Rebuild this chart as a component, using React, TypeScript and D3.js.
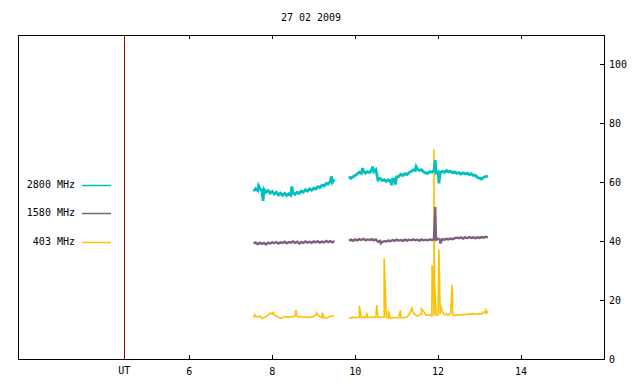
import React from "react";
import * as d3 from "d3";

const TITLE = "27 02 2009";
const X_DOMAIN = [1.87, 16];
const Y_DOMAIN = [0, 110];
const X_TICKS = [6, 8, 10, 12, 14];
const UT_MARK = 4.43;
const Y_TICKS = [0, 20, 40, 60, 80, 100];

const SEG1_START = 7.55;
const SEG2_START = 9.85;
const STEP = 0.05;

// 2800 MHz
const f2800Seg1 = [57.0, 57.8, 57.2, 57.9, 57.1, 57.6, 56.6, 57.2, 56.3, 56.9, 56.0, 56.6, 55.7, 56.3, 55.6, 56.2, 55.5, 56.1, 55.6, 56.4, 55.9, 56.6, 56.2, 57.0, 56.6, 57.5, 57.0, 57.8, 57.3, 58.0, 57.7, 58.5, 58.2, 59.0, 58.7, 59.6, 59.4, 60.3, 60.0, 61.0];
const f2800Seg2 = [62.0, 61.3, 61.9, 62.3, 62.9, 63.4, 63.0, 63.7, 63.1, 63.6, 63.3, 64.2, 63.6, 64.3, 60.8, 61.3, 60.6, 60.9, 60.3, 60.8, 60.5, 61.1, 61.0, 61.8, 62.0, 62.7, 62.3, 62.9, 62.6, 63.3, 63.6, 64.2, 64.0, 64.5, 64.0, 64.3, 63.5, 63.2, 63.0, 63.6, 63.4, 64.0, 63.2, 63.6, 63.2, 63.7, 63.4, 64.0, 63.5, 63.7, 63.2, 63.5, 63.0, 63.3, 62.8, 63.2, 62.8, 63.1, 62.6, 62.9, 62.3, 62.4, 61.6, 61.4, 61.1, 61.7, 61.9, 62.1];
const f2800Spikes: [number, number][] = [[7.67, 58.8], [7.78, 53.7], [8.47, 58.6], [9.43, 62.0], [10.18, 64.8], [10.42, 65.3], [10.88, 59.0], [10.97, 59.2], [11.47, 65.3], [11.93, 67.5], [12.02, 59.6]];

// 1580 MHz
const f1580Seg1 = [39.2, 39.6, 39.0, 39.5, 39.1, 39.4, 38.9, 39.5, 39.2, 39.6, 39.3, 39.7, 39.2, 39.6, 39.4, 39.8, 39.3, 39.7, 39.5, 39.9, 39.4, 39.8, 39.2, 39.7, 39.4, 39.9, 39.5, 39.8, 39.4, 39.9, 39.6, 40.0, 39.5, 39.9, 39.6, 40.1, 39.7, 40.0, 39.6, 40.1];
const f1580Seg2 = [40.2, 40.5, 40.1, 40.6, 40.3, 40.7, 40.4, 40.8, 40.3, 40.6, 40.4, 40.7, 40.3, 40.6, 39.8, 40.1, 39.7, 40.0, 39.9, 40.2, 40.0, 40.4, 40.1, 40.5, 40.2, 40.4, 40.1, 40.5, 40.2, 40.5, 40.3, 40.6, 40.3, 40.5, 40.2, 40.6, 40.3, 40.5, 40.3, 40.6, 40.4, 40.7, 40.5, 40.8, 40.5, 40.7, 40.5, 40.8, 40.6, 40.9, 40.7, 41.0, 41.2, 41.0, 41.3, 40.9, 41.3, 41.0, 41.4, 41.1, 41.3, 41.0, 41.3, 41.1, 41.4, 41.2, 41.5, 41.3];
const f1580Spikes: [number, number][] = [[10.62, 39.3], [11.93, 51.6], [12.05, 39.2]];

// 403 MHz
const f403Seg1 = [14.0, 14.5, 14.3, 14.6, 13.8, 14.0, 14.4, 14.9, 15.6, 15.3, 15.0, 14.6, 14.2, 13.9, 14.0, 14.4, 14.3, 14.2, 14.4, 14.3, 14.6, 14.5, 14.3, 14.4, 14.2, 14.3, 14.0, 14.3, 14.2, 14.5, 15.0, 14.8, 14.4, 14.0, 13.9, 14.0, 14.2, 14.5, 14.6, 14.6];
const f403Seg2 = [14.1, 13.9, 14.2, 14.0, 14.1, 14.2, 14.1, 14.2, 14.1, 14.2, 14.1, 14.2, 14.2, 14.2, 14.2, 14.2, 14.2, 14.2, 14.1, 14.0, 13.9, 14.0, 14.1, 14.0, 14.0, 14.1, 14.0, 14.1, 14.3, 15.2, 16.6, 15.6, 15.0, 14.6, 14.9, 15.3, 16.2, 15.0, 14.8, 15.0, 14.6, 14.8, 14.9, 15.0, 15.2, 16.1, 15.0, 15.2, 14.9, 15.4, 15.0, 14.8, 15.0, 14.9, 15.1, 15.0, 15.2, 15.1, 15.3, 15.2, 15.4, 15.3, 15.2, 15.4, 15.3, 16.0, 15.5, 15.6];
const f403Spikes: [number, number][] = [[7.58, 15.0], [8.03, 15.9], [8.57, 16.6], [9.07, 15.7], [9.21, 15.8], [10.1, 18.0], [10.28, 15.3], [10.52, 18.3], [10.7, 34.1], [10.8, 16.3], [11.09, 16.6], [11.37, 17.3], [11.6, 17.0], [11.855, 31.8], [11.87, 27.5], [11.88, 28.0], [11.9, 71.2], [11.91, 28.0], [12.02, 37.2], [12.05, 18.3], [12.34, 25.1], [13.15, 16.6]];

const SERIES = [
  { name: "403 MHz", color: "#ffc000", seg1: f403Seg1, seg2: f403Seg2, spikes: f403Spikes, legendRow: 2, width: 1.6 },
  { name: "1580 MHz", color: "#7e5f80", seg1: f1580Seg1, seg2: f1580Seg2, spikes: f1580Spikes, legendRow: 1, width: 2.4 },
  { name: "2800 MHz", color: "#00c0c0", seg1: f2800Seg1, seg2: f2800Seg2, spikes: f2800Spikes, legendRow: 0, width: 2.8 },
];

const W = 640, H = 384;
const L = 18, R = 604, T = 35, B = 359;
const FONT = "'DejaVu Sans Mono', monospace";

function buildSegment(start: number, vals: number[], spikes: [number, number][]) {
  const pts: [number, number][] = vals.map((v, i) => [start + i * STEP, v]);
  const t0 = start, t1 = start + (vals.length - 1) * STEP;
  spikes.forEach(([t, v]) => { if (t > t0 && t < t1) pts.push([t, v]); });
  pts.sort((a, b) => a[0] - b[0]);
  return pts;
}

export default function App() {
  const x = d3.scaleLinear().domain(X_DOMAIN).range([L, R]);
  const y = d3.scaleLinear().domain(Y_DOMAIN).range([B, T]);
  const line = d3.line<[number, number]>().x(d => x(d[0])).y(d => y(d[1]));
  const legendY = [185, 213, 242];

  return (
    <svg width={W} height={H} style={{ position: "absolute", left: 0, top: 0, background: "#fff" }} fontFamily={FONT} fontSize={10}>
      <rect x={0} y={0} width={W} height={H} fill="#fff" />
      <text x={311} y={18} textAnchor="middle" dominantBaseline="middle">{TITLE}</text>
      {SERIES.map(s => (
        <g key={s.name}>
          <path d={line(buildSegment(SEG1_START, s.seg1, s.spikes)) || ""} fill="none" stroke={s.color} strokeWidth={s.width} strokeLinejoin="miter" />
          <path d={line(buildSegment(SEG2_START, s.seg2, s.spikes)) || ""} fill="none" stroke={s.color} strokeWidth={s.width} strokeLinejoin="miter" />
        </g>
      ))}
      <line x1={x(UT_MARK)} x2={x(UT_MARK)} y1={T} y2={B} stroke="#a00000" strokeWidth={1} shapeRendering="crispEdges" />
      <rect x={L} y={T} width={R - L} height={B - T} fill="none" stroke="#000" strokeWidth={1} shapeRendering="crispEdges" />
      {X_TICKS.map(t => (
        <g key={t} shapeRendering="crispEdges">
          <line x1={x(t)} x2={x(t)} y1={B} y2={B - 4} stroke="#000" />
          <line x1={x(t)} x2={x(t)} y1={T} y2={T + 4} stroke="#000" />
          <text x={x(t)} y={372} textAnchor="middle" dominantBaseline="middle">{t}</text>
        </g>
      ))}
      <text x={x(UT_MARK)} y={371} textAnchor="middle" dominantBaseline="middle">UT</text>
      {Y_TICKS.map(t => (
        <g key={t} shapeRendering="crispEdges">
          {t > 0 && <line x1={R} x2={R - 4} y1={y(t)} y2={y(t)} stroke="#000" />}
          <text x={609} y={y(t) + 1} textAnchor="start" dominantBaseline="middle">{t}</text>
        </g>
      ))}
      {SERIES.map(s => (
        <g key={"lg" + s.name}>
          <text x={75} y={legendY[s.legendRow]} textAnchor="end" dominantBaseline="middle">{s.name}</text>
          <line x1={82} x2={111} y1={legendY[s.legendRow] + 0.5} y2={legendY[s.legendRow] + 0.5} stroke={s.color} strokeWidth={1.5} />
        </g>
      ))}
    </svg>
  );
}
